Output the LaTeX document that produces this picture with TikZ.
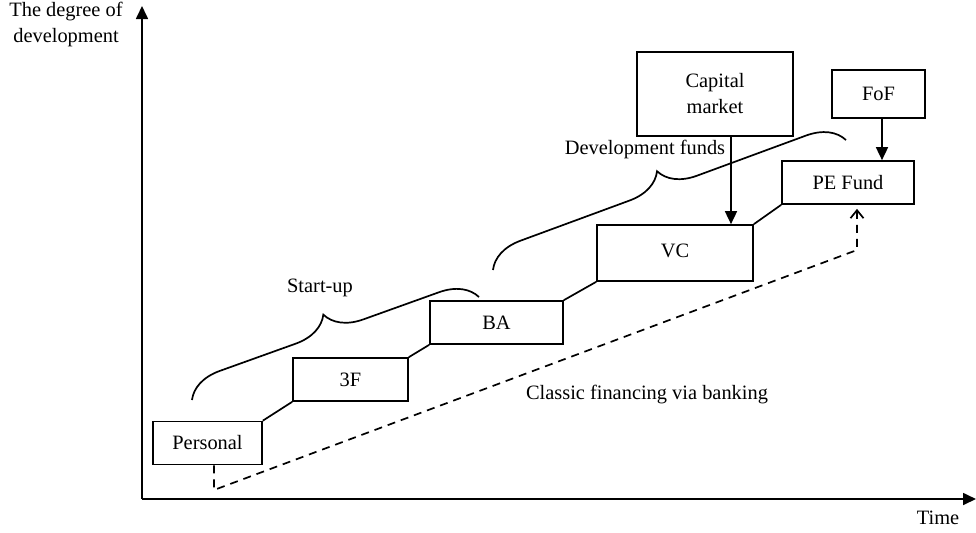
\documentclass[tikz,border=0pt]{standalone}
\usepackage{fontspec}
\setmainfont{Liberation Serif}
\usetikzlibrary{arrows.meta,decorations.pathreplacing}

\begin{document}
\begin{tikzpicture}[x=0.5pt,y=-0.5pt,line width=0.85pt,
  font=\fontsize{10.2}{13}\selectfont,
  stage/.style={draw,inner sep=0pt,minimum height=#1},
  stage/.default=21.5pt,
  fund/.style={-{Triangle[length=6.5pt,width=6pt]}},
  bracket/.style={decorate,decoration={brace,amplitude=18pt,aspect=0.5}},
  every node/.append style={align=center}]
\useasboundingbox (0,0) rectangle (976,532);

% axes
\coordinate (origin) at (142,499);
\coordinate (ytop) at (142,6);
\coordinate (xend) at (976,499);
\draw[fund] (origin) -- (ytop);
\draw[fund] (origin) -- (xend);
\node (ylabel) at (66,24) {The degree of\\development};
\node (xlabel) at (938,518) {Time};

% financing stages
\node[stage,minimum width=54.5pt] (personal) at (207.5,443) {Personal};
\node[stage,minimum width=57.5pt] (3F) at (350.5,379.5) {3F};
\node[stage,minimum width=66.5pt] (BA) at (496.5,322.5) {BA};
\node[stage=28pt,minimum width=78pt] (VC) at (675,253) {\raisebox{2.5pt}{VC}};
\node[stage,minimum width=66pt] (PE) at (848,182.5) {PE Fund};
\node[stage=42pt,minimum width=78pt] (capital) at (715,94) {Capital\\market};
\node[stage=24pt,minimum width=46.5pt] (FoF) at (878.5,94) {FoF};

\draw (personal.north east) -- (3F.south west);
\draw (3F.north east) -- (BA.south west);
\draw (BA.north east) -- (VC.south west);
\draw (VC.north east) -- (PE.south west);

% outside money
\coordinate (cmx) at (731,0);
\coordinate (fofx) at (882,0);
\draw[fund] (capital.south -| cmx) -- (VC.north -| cmx);
\draw[fund] (FoF.south -| fofx) -- (PE.north -| fofx);

% bank route
\coordinate (bank0) at (214,490);
\coordinate (bank1) at (857,250);
\draw[dash pattern=on 4pt off 3pt,-{Straight Barb[length=4pt,width=6.5pt]},shorten >=2pt]
  (personal.south -| bank0) -- (bank0) -- (bank1) -- (PE.south -| bank1);
\node (banking) at (647,395) {Classic financing via banking};

% phases
\coordinate (s0) at (192,400);
\coordinate (s1) at (479,297);
\draw[bracket] (s0) -- (s1);
\node (startup) at (320,288) {Start-up};
\coordinate (d0) at (493,270);
\coordinate (d1) at (846,140);
\draw[bracket] (d0) -- (d1);
\node (devfunds) at (645,149) {Development funds};

\end{tikzpicture}
\end{document}
